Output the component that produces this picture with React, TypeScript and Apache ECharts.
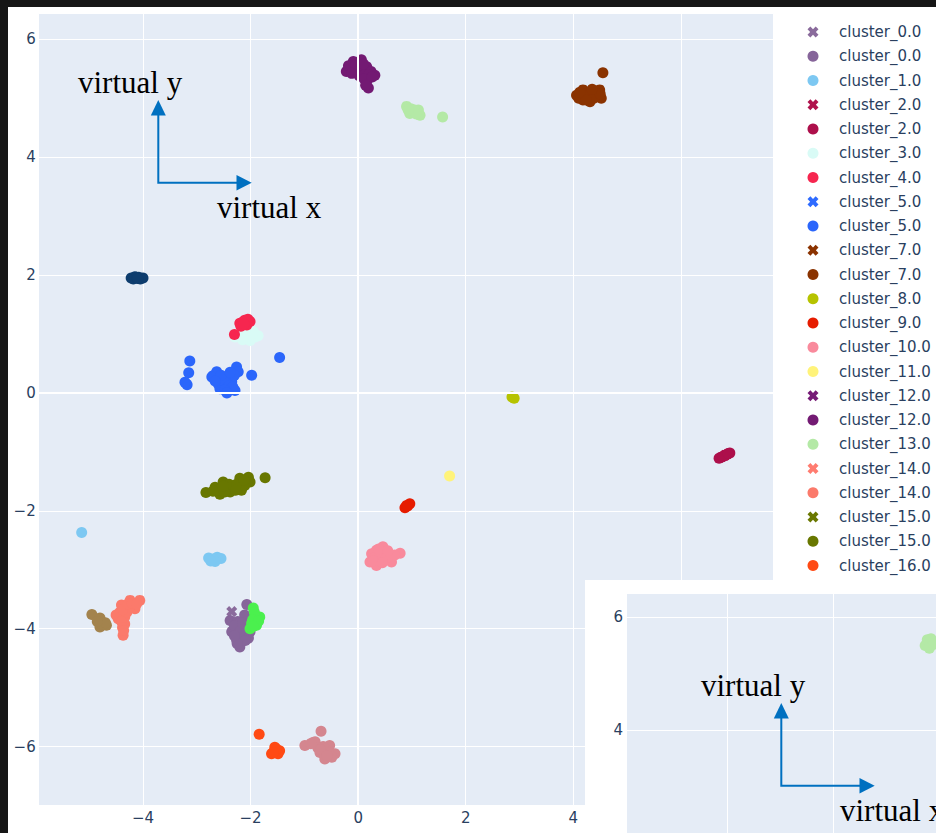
import React, { useEffect, useRef } from "react";
import * as echarts from "echarts";

// ---------- data ----------
const cluster0X = [[-2.35, -3.71]];
const cluster0 = [[-2.38, -3.86], [-2.35, -4.05], [-2.26, -4.19], [-2.20, -4.31], [-2.04, -4.16], [-2.01, -4.05], [-2.17, -3.97], [-2.24, -3.88], [-2.07, -3.59], [-2.11, -3.77], [-2.13, -4.10], [-2.28, -4.00], [-2.30, -3.95], [-2.20, -4.05], [-2.10, -4.20], [-2.25, -4.25], [-2.15, -3.90], [-2.30, -4.12]];
const cluster1 = [[-5.14, -2.37], [-2.78, -2.80], [-2.70, -2.82], [-2.62, -2.79], [-2.55, -2.81], [-2.66, -2.86], [-2.74, -2.85]];
const cluster2X = [[6.82, -1.06]];
const cluster2 = [[6.75, -1.09], [6.91, -1.02], [6.82, -1.06], [6.71, -1.11], [6.86, -1.04], [6.78, -1.08], [6.88, -1.03]];
const cluster3 = [[-2.29, 0.95], [-2.11, 0.92], [-1.92, 0.95], [-1.86, 0.97], [-2.01, 0.89], [-2.17, 1.04], [-1.95, 1.04], [-2.05, 0.98], [-2.22, 0.97], [-1.98, 1.00], [-2.10, 0.98], [-2.15, 0.90]];
const cluster4 = [[-2.11, 1.23], [-2.01, 1.21], [-2.20, 1.18], [-2.07, 1.15], [-2.30, 0.99], [-2.15, 1.20], [-2.18, 1.13], [-2.05, 1.25], [-2.12, 1.17]];
const cluster5X = [[-2.45, 0.15]];
const cluster5 = [[-3.13, 0.54], [-3.15, 0.34], [-3.18, 0.14], [-3.22, 0.18], [-2.70, 0.29], [-2.57, 0.24], [-2.51, 0.13], [-2.57, 0.07], [-2.42, 0.07], [-2.29, 0.04], [-2.35, 0.19], [-2.26, 0.44], [-2.23, 0.36], [-2.45, 0.27], [-2.63, 0.36], [-1.98, 0.30], [-1.46, 0.60], [-2.72, 0.27], [-2.60, 0.15], [-2.50, 0.20], [-2.40, 0.12], [-2.33, 0.10], [-2.48, 0.05], [-2.55, 0.30], [-2.30, 0.30], [-2.38, 0.35], [-2.66, 0.20], [-2.44, 0.00]];
const cluster7X = [[4.30, 5.05]];
const cluster7 = [[4.06, 5.05], [4.18, 5.14], [4.37, 5.11], [4.49, 5.14], [4.52, 5.00], [4.31, 4.94], [4.18, 4.97], [4.55, 5.43], [4.30, 5.05], [4.42, 5.03], [4.10, 5.00], [4.25, 5.08], [4.45, 5.08], [4.38, 5.00], [4.24, 4.97], [4.12, 5.10], [4.50, 5.07], [4.35, 5.15]];
const cluster8 = [[2.86, -0.07], [2.90, -0.09]];
const cluster9 = [[0.87, -1.95], [0.90, -1.91], [0.96, -1.88], [0.92, -1.92]];
const cluster10 = [[0.22, -2.87], [0.34, -2.93], [0.34, -2.67], [0.46, -2.61], [0.59, -2.76], [0.78, -2.72], [0.62, -2.87], [0.43, -2.81], [0.25, -2.73], [0.50, -2.70], [0.30, -2.80], [0.40, -2.75], [0.52, -2.80], [0.68, -2.75], [0.28, -2.85], [0.45, -2.88], [0.38, -2.65], [0.55, -2.68]];
const cluster11 = [[1.70, -1.41]];
const cluster12X = [[0.05, 5.50]];
const cluster12 = [[-0.22, 5.45], [-0.09, 5.62], [0.06, 5.65], [0.16, 5.53], [0.31, 5.39], [-0.03, 5.45], [0.16, 5.28], [0.19, 5.17], [-0.15, 5.53], [0.06, 5.45], [0.24, 5.45], [-0.18, 5.55], [-0.05, 5.55], [0.10, 5.58], [0.02, 5.38], [0.12, 5.40], [0.20, 5.40], [0.11, 5.33], [-0.12, 5.42], [0.26, 5.36], [0.14, 5.22]];
const cluster13 = [[0.90, 4.86], [1.02, 4.77], [1.15, 4.71], [0.96, 4.74], [1.12, 4.80], [1.57, 4.68], [0.98, 4.82], [1.05, 4.80], [1.08, 4.73], [0.93, 4.80]];
const cluster14X = [[-4.30, -3.65]];
const cluster14 = [[-4.43, -3.72], [-4.40, -3.60], [-4.24, -3.52], [-4.06, -3.52], [-4.15, -3.66], [-4.46, -3.83], [-4.34, -3.92], [-4.37, -4.11], [-4.34, -3.80], [-4.50, -3.77], [-4.25, -3.62], [-4.30, -3.72], [-4.38, -3.68], [-4.28, -3.58], [-4.20, -3.57], [-4.40, -3.88], [-4.38, -3.98], [-4.36, -4.03], [-4.12, -3.58]];
const cluster15X = [[-2.30, -1.57]];
const cluster15 = [[-2.83, -1.69], [-2.66, -1.60], [-2.57, -1.72], [-2.51, -1.51], [-2.45, -1.62], [-2.32, -1.60], [-2.20, -1.45], [-2.17, -1.65], [-2.04, -1.43], [-2.01, -1.51], [-1.73, -1.44], [-2.38, -1.68], [-2.11, -1.57], [-2.60, -1.65], [-2.48, -1.68], [-2.40, -1.55], [-2.26, -1.55], [-2.28, -1.65], [-2.12, -1.48], [-2.50, -1.58], [-2.70, -1.67]];
const cluster16 = [[-1.84, -5.79], [-1.55, -6.01], [-1.49, -6.12], [-1.61, -6.12], [-1.46, -6.07], [-1.55, -6.08], [-1.52, -6.04], [-1.58, -6.10]];
const cluster17 = [[-4.22, 1.95], [-4.15, 1.97], [-4.08, 1.96], [-4.00, 1.95], [-4.18, 1.93], [-4.05, 1.93], [-4.12, 1.96], [-4.10, 1.94]];
const cluster18 = [[-4.95, -3.76], [-4.80, -3.82], [-4.68, -3.94], [-4.80, -3.97], [-4.74, -3.90], [-4.75, -3.93], [-4.70, -3.90], [-4.85, -3.88]];
const cluster19 = [[-1.95, -3.65], [-1.83, -3.80], [-1.92, -3.80], [-1.98, -3.91], [-2.01, -4.00], [-1.89, -3.94], [-1.93, -3.72], [-1.96, -3.85], [-1.85, -3.87], [-1.95, -3.96]];
const cluster20 = [[-0.99, -5.98], [-0.84, -5.93], [-0.80, -5.92], [-0.69, -5.74], [-0.71, -6.10], [-0.53, -5.98], [-0.43, -6.12], [-0.62, -6.21], [-0.49, -6.18], [-0.60, -6.05], [-0.75, -6.02], [-0.65, -6.00], [-0.55, -6.10], [-0.70, -6.05], [-0.58, -6.15], [-0.88, -5.95]];
// second (inset) screenshot
const insetCluster13 = [[-0.26, 5.50], [-0.22, 5.60], [-0.15, 5.62], [-0.18, 5.45], [-0.10, 5.52]];

const seriesNames = [
  "cluster_0.0|x", "cluster_0.0", "cluster_1.0", "cluster_2.0|x", "cluster_2.0", "cluster_3.0",
  "cluster_4.0", "cluster_5.0|x", "cluster_5.0", "cluster_7.0|x", "cluster_7.0", "cluster_8.0",
  "cluster_9.0", "cluster_10.0", "cluster_11.0", "cluster_12.0|x", "cluster_12.0", "cluster_13.0",
  "cluster_14.0|x", "cluster_14.0", "cluster_15.0|x", "cluster_15.0", "cluster_16.0",
  "cluster_17.0", "cluster_18.0", "cluster_19.0", "cluster_20.0",
];
const seriesData = [
  cluster0X, cluster0, cluster1, cluster2X, cluster2, cluster3, cluster4, cluster5X, cluster5,
  cluster7X, cluster7, cluster8, cluster9, cluster10, cluster11, cluster12X, cluster12, cluster13,
  cluster14X, cluster14, cluster15X, cluster15, cluster16, cluster17, cluster18, cluster19, cluster20,
];
const seriesColors = [
  "#8a6b9c", "#86659a", "#7dc8f2", "#b0124c", "#ad0f4b", "#d9fbf6", "#f6264f", "#2e6bff", "#2b66fb",
  "#8b3300", "#8a3300", "#b6c300", "#e61c00", "#f98a9c", "#fff37a", "#761a76", "#731a73", "#b4e9a6",
  "#ff7c70", "#fb7a6b", "#6a7800", "#687700", "#ff4a14", "#0e3d6e", "#a3834d", "#4bf04e", "#d4868f",
];
const legendCount = 23; // entries visible above the inset

const X_PATH =
  "path://M2.6,0L5,2.4L7.4,0L10,2.6L7.6,5L10,7.4L7.4,10L5,7.6L2.6,10L0,7.4L2.4,5L0,2.6Z";

const TICK_COLOR = "#2a3f5f";
const PLOT_BG = "#E5ECF6";
const ARROW = "#0070c0";

const minus = (v: number) => String(v).replace("-", "\u2212");

function annotation(dx: number, dy: number, z: number) {
  const font = '31px "Liberation Serif", "Times New Roman", serif';
  return [
    {
      type: "text", z, silent: true, x: 78 + dx, y: 82.5 + dy,
      style: { text: "virtual y", font, fill: "#000", verticalAlign: "middle" },
    },
    {
      type: "text", z, silent: true, x: 217 + dx, y: 207.5 + dy,
      style: { text: "virtual x", font, fill: "#000", verticalAlign: "middle" },
    },
    {
      type: "polyline", z, silent: true,
      shape: { points: [[158.3 + dx, 114 + dy], [158.3 + dx, 182.7 + dy], [238 + dx, 182.7 + dy]] },
      style: { stroke: ARROW, lineWidth: 2, fill: null },
    },
    {
      type: "polygon", z, silent: true,
      shape: { points: [[158.3 + dx, 100 + dy], [150.8 + dx, 115.5 + dy], [165.8 + dx, 115.5 + dy]] },
      style: { fill: ARROW },
    },
    {
      type: "polygon", z, silent: true,
      shape: { points: [[251.7 + dx, 182.7 + dy], [236.5 + dx, 175 + dy], [236.5 + dx, 190.4 + dy]] },
      style: { fill: ARROW },
    },
  ];
}

export default function App() {
  const ref = useRef<HTMLDivElement>(null);
  useEffect(() => {
    if (!ref.current) return;
    const chart = echarts.init(ref.current, null, { renderer: "svg" });

    const series: any[] = seriesData.map((d, i) => ({
      type: "scatter",
      name: seriesNames[i],
      data: d,
      xAxisIndex: 0,
      yAxisIndex: 0,
      symbol: seriesNames[i].endsWith("|x") ? X_PATH : "circle",
      symbolSize: 11,
      itemStyle: { color: seriesColors[i], opacity: 1 },
      emphasis: { disabled: true },
      z: 2,
    }));
    // zero lines
    series.push({
      type: "scatter",
      name: "zeroline",
      data: [],
      xAxisIndex: 0,
      yAxisIndex: 0,
      z: 1,
      markLine: {
        silent: true,
        symbol: ["none", "none"],
        label: { show: false },
        lineStyle: { color: "#ffffff", width: 2, type: "solid", opacity: 1 },
        emphasis: { disabled: true },
        data: [{ xAxis: 0 }, { yAxis: 0 }],
      },
    });
    // inset screenshot series
    series.push({
      type: "scatter",
      name: "cluster_13.0",
      data: insetCluster13,
      xAxisIndex: 1,
      yAxisIndex: 1,
      symbol: "circle",
      symbolSize: 11,
      itemStyle: { color: "#b4e9a6", opacity: 1 },
      emphasis: { disabled: true },
      z: 22,
    });

    const legendData = seriesNames.slice(0, legendCount).map((n) => ({
      name: n,
      icon: n.endsWith("|x") ? X_PATH : "circle",
    }));

    const axisCommon = {
      axisLine: { show: false },
      axisTick: { show: false },
      splitLine: { show: true, lineStyle: { color: "#ffffff", width: 1 } },
    };
    const labelStyle = {
      color: TICK_COLOR,
      fontSize: 15,
      fontFamily: '"DejaVu Sans", Verdana, sans-serif',
      showMinLabel: false,
      showMaxLabel: false,
      formatter: minus,
    };

    chart.setOption({
      animation: false,
      backgroundColor: "#ffffff",
      grid: [
        { left: 38.7, top: 13.3, width: 734.6, height: 791.7, show: true, backgroundColor: PLOT_BG, borderWidth: 0 },
        { left: 626, top: 593, width: 310, height: 250, show: true, backgroundColor: PLOT_BG, borderWidth: 0, z: 20 },
      ],
      xAxis: [
        {
          type: "value", gridIndex: 0, min: -5.939, max: 7.718, splitNumber: 7, ...axisCommon,
          axisLabel: { ...labelStyle, margin: 5 },
        },
        {
          type: "value", gridIndex: 1, min: -5.926, max: -0.055, splitNumber: 3, z: 20, ...axisCommon,
          axisLabel: { show: false },
        },
      ],
      yAxis: [
        {
          type: "value", gridIndex: 0, min: -6.991, max: 6.439, splitNumber: 7, ...axisCommon,
          axisLabel: { ...labelStyle, margin: 3 },
        },
        {
          type: "value", gridIndex: 1, min: 2.172, max: 6.431, splitNumber: 2, z: 20, ...axisCommon,
          axisLabel: { ...labelStyle, margin: 3 },
        },
      ],
      legend: {
        orient: "vertical",
        left: 807.5,
        top: 24.5,
        padding: 0,
        itemWidth: 11,
        itemHeight: 11,
        itemGap: 9.25,
        selectedMode: false,
        data: legendData,
        formatter: (n: string) => n.replace("|x", ""),
        textStyle: {
          color: TICK_COLOR,
          fontSize: 15,
          lineHeight: 15,
          fontFamily: '"DejaVu Sans", Verdana, sans-serif',
          padding: [0, 0, 0, 15.5],
        },
      },
      graphic: [
        ...annotation(0, 0, 6),
        { type: "rect", z: 15, silent: true, shape: { x: 585, y: 580, width: 360, height: 260 }, style: { fill: "#ffffff" } },
        ...annotation(623, 603, 30),
        { type: "rect", z: 100, silent: true, shape: { x: 0, y: 0, width: 936, height: 7 }, style: { fill: "#161616" } },
        { type: "rect", z: 100, silent: true, shape: { x: 0, y: 0, width: 8, height: 833 }, style: { fill: "#161616" } },
      ],
      series,
    });
    return () => chart.dispose();
  }, []);
  return (
    <div
      ref={ref}
      style={{ position: "fixed", left: 0, top: 0, width: 936, height: 833 }}
    />
  );
}
